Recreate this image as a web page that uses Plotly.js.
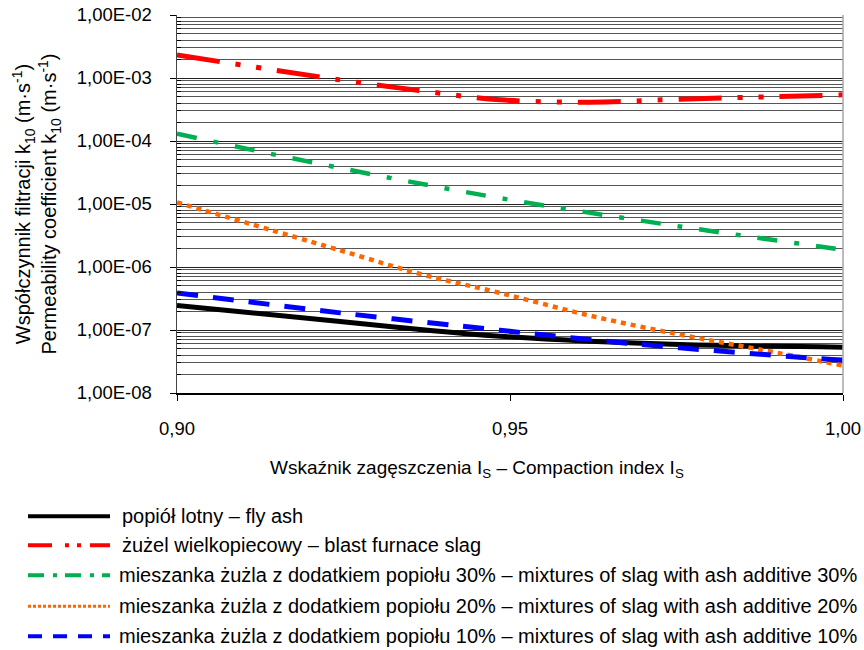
<!DOCTYPE html>
<html>
<head>
<meta charset="utf-8">
<script src="https://cdn.plot.ly/plotly-3.0.1.min.js"></script>
<style>html,body{margin:0;padding:0;background:#fff;}#chart{width:864px;height:650px;}</style>
</head>
<body>
<div id="chart"></div>
<script>
// ---- data ----
const seriesNames = [
  "popiół lotny – fly ash",
  "żużel wielkopiecowy – blast furnace slag",
  "mieszanka żużla z dodatkiem popiołu 30% – mixtures of slag with ash additive 30%",
  "mieszanka żużla z dodatkiem popiołu 20% – mixtures of slag with ash additive 20%",
  "mieszanka żużla z dodatkiem popiołu 10% – mixtures of slag with ash additive 10%"
];
const flyAshX = [0.90, 0.9245, 0.9365, 0.9485, 0.962, 0.9755, 1.00];
const flyAshY = [2.44e-7, 1.37e-7, 1.02e-7, 7.95e-8, 6.62e-8, 5.88e-8, 5.32e-8];
const slagX = [0.90, 0.9245, 0.9365, 0.9485, 0.962, 0.9755, 1.00];
const slagY = [2.32e-3, 9.33e-4, 6.31e-4, 4.5e-4, 4.13e-4, 4.61e-4, 5.4e-4];
const mix30X = [0.90, 0.9245, 0.9485, 0.9755, 1.00];
const mix30Y = [1.30e-4, 3.72e-5, 1.24e-5, 4.4e-6, 1.88e-6];
const mix20X = [0.90, 0.9245, 0.9365, 0.9485, 0.962, 0.9755, 0.9875, 1.00];
const mix20Y = [1.06e-5, 1.84e-6, 7.76e-7, 3.88e-7, 1.69e-7, 8.45e-8, 4.9e-8, 2.73e-8];
const mix10X = [0.90, 0.9245, 0.9485, 0.962, 0.9755, 0.9965, 1.00];
const mix10Y = [3.88e-7, 1.87e-7, 9.9e-8, 7.05e-8, 5.21e-8, 3.52e-8, 3.35e-8];
const xTickVals = [0.90, 0.95, 1.00];
const yTickVals = [1e-8, 1e-7, 1e-6, 1e-5, 1e-4, 1e-3, 1e-2];
const yTickText = ["1,00E-08", "1,00E-07", "1,00E-06", "1,00E-05", "1,00E-04", "1,00E-03", "1,00E-02"];
const xTitle = "Wskaźnik zagęszczenia I<sub>S</sub> – Compaction index I<sub>S</sub>";
const yTitle = "Współczynnik filtracji k<sub>10</sub> (m·s<sup>-1</sup>)<br>Permeability coefficient k<sub>10</sub> (m·s<sup>-1</sup>)";

// ---- styles ----
const FONT = "Liberation Sans, Arial, sans-serif";
const styles = [
  {color: "#000000", width: 5, dash: "solid", legendDash: "solid"},
  {color: "#ff0000", width: 5, dash: "43px,16px,5px,16px,5px,16px", legendDash: "24px,13px,4px,8px,4px,9px"},
  {color: "#00b050", width: 4.5, dash: "20px,17px,5px,17px", legendDash: "16px,9px,4px,8px"},
  {color: "#ff6600", width: 4.5, dash: "5px,5px", legendDash: "3px,2px"},
  {color: "#0000ff", width: 5, dash: "21px,15px", legendDash: "14px,11px"}
];
const xs = [flyAshX, slagX, mix30X, mix20X, mix10X];
const ys = [flyAshY, slagY, mix30Y, mix20Y, mix10Y];

const traces = seriesNames.map((n, i) => ({
  x: xs[i], y: ys[i], name: n, type: "scatter", mode: "lines",
  line: {color: styles[i].color, width: styles[i].width, dash: styles[i].dash, shape: "spline", smoothing: 1},
  showlegend: false, hoverinfo: "skip"
}));

// minor log gridlines
const minorVals = [];
for (let e = -8; e < -2; e++) for (let m = 2; m <= 9; m++) minorVals.push(m * Math.pow(10, e));

// geometry of plot area (pixels)
const L = 177, R = 843, T = 15, B = 393.5;
const xp = px => (px - L) / (R - L);
const yp = py => (B - py) / (B - T);

const legendRows = [517, 546, 576, 607, 637];
const legendTextX = [120, 120, 117, 117, 117];
const shapes = [
  {type: "line", xref: "paper", yref: "paper", x0: 1, x1: 1, y0: 0, y1: 1, line: {color: "#a6a6a6", width: 1.5}}
];
const annotations = [
  {xref: "paper", yref: "paper", x: xp(477), y: yp(470), xanchor: "center", yanchor: "middle",
   text: xTitle, showarrow: false, font: {family: FONT, size: 19, color: "#000"}}
];
seriesNames.forEach((n, i) => {
  shapes.push({type: "line", xref: "paper", yref: "paper", x0: xp(28), x1: xp(110), y0: yp(legendRows[i]), y1: yp(legendRows[i]),
    line: {color: styles[i].color, width: i === 3 ? 3 : 4, dash: styles[i].legendDash}});
  annotations.push({xref: "paper", yref: "paper", x: xp(legendTextX[i]), y: yp(legendRows[i]), xanchor: "left", yanchor: "middle",
    text: n, showarrow: false, font: {family: FONT, size: 20, color: "#000"}});
});

const layout = {
  width: 864, height: 650,
  margin: {l: L, r: 864 - R, t: T, b: 650 - B, pad: 0},
  separators: ",.",
  paper_bgcolor: "#fff", plot_bgcolor: "#fff",
  font: {family: FONT, size: 18.5, color: "#000"},
  xaxis: {
    range: [0.90, 1.00], tickvals: xTickVals, tickformat: ".2f",
    ticks: "outside", ticklen: 6, tickcolor: "#000", showgrid: false, zeroline: false,
    showline: true, linecolor: "#000", linewidth: 1.5,
    tickfont: {family: FONT, size: 18.5}, ticklabelstandoff: 12
  },
  yaxis: {
    type: "log", range: [-8, -2], tickvals: yTickVals, ticktext: yTickText,
    ticks: "outside", ticklen: 6, tickcolor: "#000",
    showgrid: true, gridcolor: "#222", gridwidth: 1, zeroline: false,
    showline: true, linecolor: "#444", linewidth: 1.5,
    minor: {tickvals: minorVals, showgrid: true, gridcolor: "#555", gridwidth: 1, ticks: "inside", ticklen: 4, tickcolor: "#000"},
    tickfont: {family: FONT, size: 18.5}, ticklabelstandoff: 14,
    title: {text: yTitle, font: {family: FONT, size: 20}, standoff: 14}
  },
  showlegend: false,
  shapes: shapes,
  annotations: annotations
};

Plotly.newPlot("chart", traces, layout, {displayModeBar: false, staticPlot: true});
</script>
</body>
</html>
